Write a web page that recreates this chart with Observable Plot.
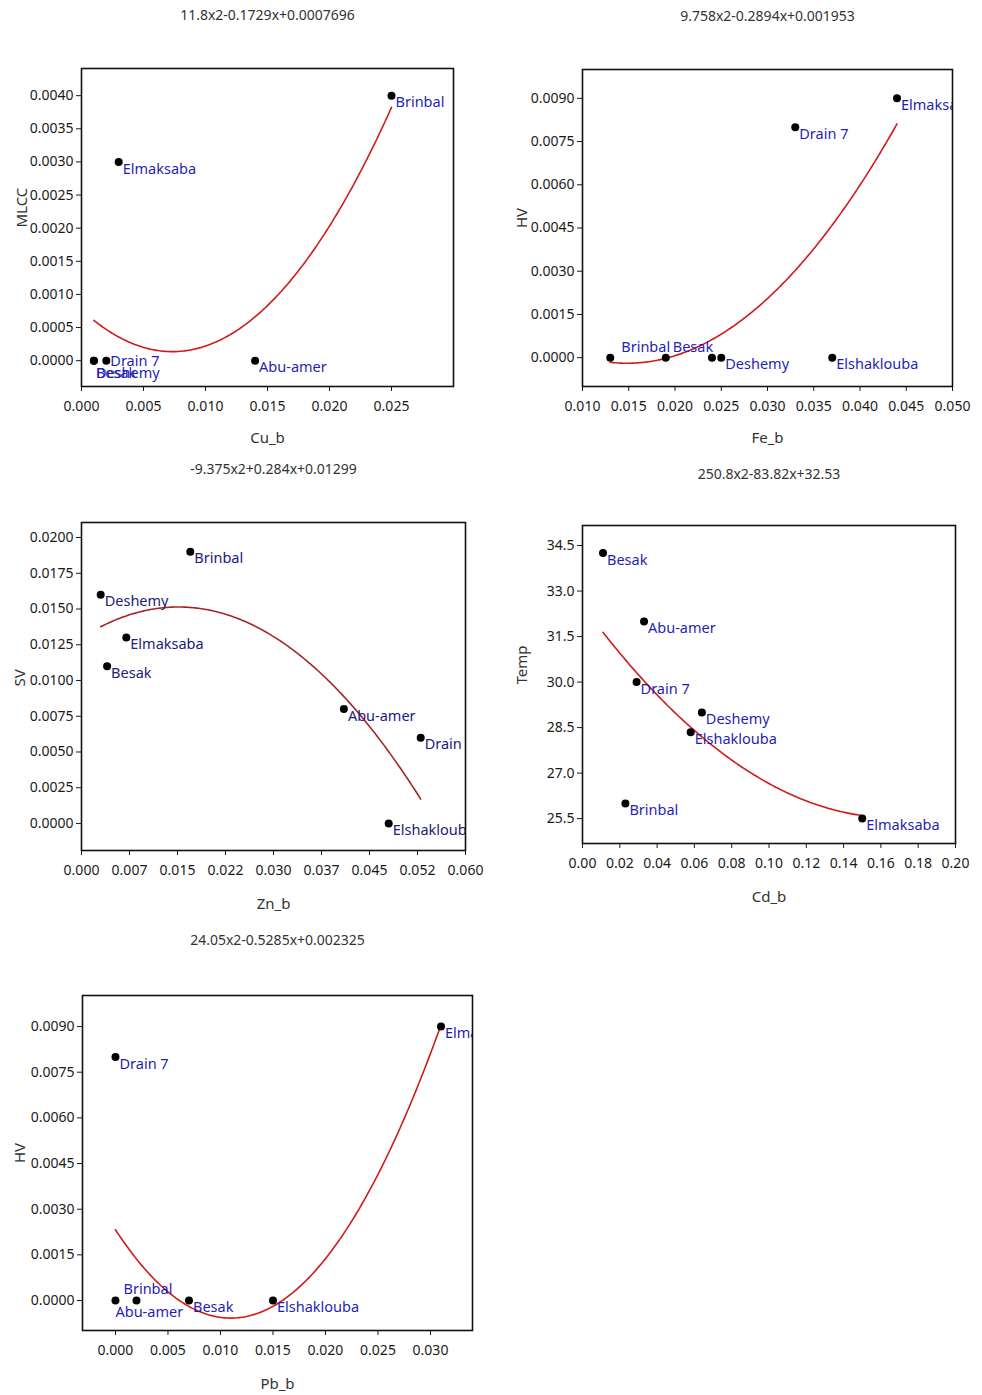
<!DOCTYPE html>
<html>
<head>
<meta charset="utf-8">
<script src="https://cdn.jsdelivr.net/npm/d3@7"></script>
<script src="https://cdn.jsdelivr.net/npm/@observablehq/plot@0.6"></script>
<style>
  html, body { margin: 0; padding: 0; background: white; }
  #wrap { position: relative; width: 982px; height: 1395px; background: white; overflow: hidden; }
  .panel { position: absolute; }
</style>
</head>
<body>
<div id="wrap"></div>
<script>
// ---------------- DATA ----------------
// Panel 1: MLCC vs Cu_b
const p1Sites = ["Brinbal", "Elmaksaba", "Abu-amer", "Drain 7", "Deshemy", "Besak"];
const p1X = [0.025, 0.003, 0.014, 0.002, 0.001, 0.001];
const p1Y = [0.0040, 0.0030, 0.0000, 0.0000, 0.0000, 0.0000];
const p1Coef = [11.8, -0.1729, 0.0007696];
const p1Title = "11.8x2-0.1729x+0.0007696";
const p1XTicks = [0, 0.005, 0.010, 0.015, 0.020, 0.025];
const p1XTickLabels = ["0.000", "0.005", "0.010", "0.015", "0.020", "0.025"];
const p1YTicks = [0, 0.0005, 0.0010, 0.0015, 0.0020, 0.0025, 0.0030, 0.0035, 0.0040];
const p1YTickLabels = ["0.0000", "0.0005", "0.0010", "0.0015", "0.0020", "0.0025", "0.0030", "0.0035", "0.0040"];

// Panel 2: HV vs Fe_b
const p2Sites = ["Brinbal", "Besak", "Abu-amer", "Deshemy", "Elshaklouba", "Drain 7", "Elmaksaba"];
const p2X = [0.013, 0.019, 0.024, 0.025, 0.037, 0.033, 0.044];
const p2Y = [0.0000, 0.0000, 0.0000, 0.0000, 0.0000, 0.0080, 0.0090];
const p2Coef = [9.758, -0.2894, 0.001953];
const p2Title = "9.758x2-0.2894x+0.001953";
const p2XTicks = [0.010, 0.015, 0.020, 0.025, 0.030, 0.035, 0.040, 0.045, 0.050];
const p2XTickLabels = ["0.010", "0.015", "0.020", "0.025", "0.030", "0.035", "0.040", "0.045", "0.050"];
const p2YTicks = [0, 0.0015, 0.0030, 0.0045, 0.0060, 0.0075, 0.0090];
const p2YTickLabels = ["0.0000", "0.0015", "0.0030", "0.0045", "0.0060", "0.0075", "0.0090"];

// Panel 3: SV vs Zn_b
const p3Sites = ["Brinbal", "Deshemy", "Elmaksaba", "Besak", "Abu-amer", "Drain 7", "Elshaklouba"];
const p3X = [0.017, 0.003, 0.007, 0.004, 0.041, 0.053, 0.048];
const p3Y = [0.0190, 0.0160, 0.0130, 0.0110, 0.0080, 0.0060, 0.0000];
const p3Coef = [-9.375, 0.284, 0.01299];
const p3Title = "-9.375x2+0.284x+0.01299";
const p3XTicks = [0, 0.0075, 0.015, 0.0225, 0.030, 0.0375, 0.045, 0.0525, 0.060];
const p3XTickLabels = ["0.000", "0.007", "0.015", "0.022", "0.030", "0.037", "0.045", "0.052", "0.060"];
const p3YTicks = [0, 0.0025, 0.0050, 0.0075, 0.0100, 0.0125, 0.0150, 0.0175, 0.0200];
const p3YTickLabels = ["0.0000", "0.0025", "0.0050", "0.0075", "0.0100", "0.0125", "0.0150", "0.0175", "0.0200"];

// Panel 4: Temp vs Cd_b
const p4Sites = ["Besak", "Abu-amer", "Drain 7", "Deshemy", "Elshaklouba", "Brinbal", "Elmaksaba"];
const p4X = [0.011, 0.033, 0.029, 0.064, 0.058, 0.023, 0.150];
const p4Y = [34.25, 32.0, 30.0, 29.0, 28.35, 26.0, 25.5];
const p4Coef = [250.8, -83.82, 32.53];
const p4Title = "250.8x2-83.82x+32.53";
const p4XTicks = [0, 0.02, 0.04, 0.06, 0.08, 0.10, 0.12, 0.14, 0.16, 0.18, 0.20];
const p4XTickLabels = ["0.00", "0.02", "0.04", "0.06", "0.08", "0.10", "0.12", "0.14", "0.16", "0.18", "0.20"];
const p4YTicks = [25.5, 27.0, 28.5, 30.0, 31.5, 33.0, 34.5];
const p4YTickLabels = ["25.5", "27.0", "28.5", "30.0", "31.5", "33.0", "34.5"];

// Panel 5: HV vs Pb_b
const p5Sites = ["Drain 7", "Elmaksaba", "Abu-amer", "Brinbal", "Besak", "Elshaklouba"];
const p5X = [0.000, 0.031, 0.000, 0.002, 0.007, 0.015];
const p5Y = [0.0080, 0.0090, 0.0000, 0.0000, 0.0000, 0.0000];
const p5Coef = [24.05, -0.5285, 0.002325];
const p5Title = "24.05x2-0.5285x+0.002325";
const p5XTicks = [0, 0.005, 0.010, 0.015, 0.020, 0.025, 0.030];
const p5XTickLabels = ["0.000", "0.005", "0.010", "0.015", "0.020", "0.025", "0.030"];
const p5YTicks = [0, 0.0015, 0.0030, 0.0045, 0.0060, 0.0075, 0.0090];
const p5YTickLabels = ["0.0000", "0.0015", "0.0030", "0.0045", "0.0060", "0.0075", "0.0090"];

// ---------------- DRAWING ----------------
const FONT = "'Noto Sans', 'Open Sans', sans-serif";
const ML = 85, MR = 25, MT = 65, MB = 70;

function panel(cfg) {
  const pts = cfg.sites.map((s, i) => ({site: s, x: cfg.x[i], y: cfg.y[i]}));
  const [xa, xb] = d3.extent(cfg.x);
  const c = cfg.coef;
  const curve = d3.range(0, 201).map(i => {
    const x = xa + (xb - xa) * i / 200;
    return {x, y: c[0] * x * x + c[1] * x + c[2]};
  });
  const fw = cfg.frame[1] - cfg.frame[0];
  const fh = cfg.frame[3] - cfg.frame[2];
  const xMap = new Map(cfg.xTicks.map((t, i) => [t, cfg.xTickLabels[i]]));
  const yMap = new Map(cfg.yTicks.map((t, i) => [t, cfg.yTickLabels[i]]));

  const labelMarks = pts.map(p => {
    const off = cfg.place[p.site] || [4, 7];
    if (off === "none") return null;
    return Plot.text([p], {
      x: "x", y: "y", text: "site",
      dx: off[0], dy: off[1],
      textAnchor: "start", lineAnchor: "middle",
      fill: cfg.labelColor, fontSize: 14.5, clip: true
    });
  }).filter(Boolean);

  const chart = Plot.plot({
    width: fw + ML + MR,
    height: fh + MT + MB,
    marginLeft: ML, marginRight: MR, marginTop: MT, marginBottom: MB,
    x: {domain: cfg.xDomain},
    y: {domain: cfg.yDomain},
    style: {fontFamily: FONT, fontSize: "14px", color: "#1a1a1a", background: "white", overflow: "visible"},
    marks: [
      Plot.axisX({ticks: cfg.xTicks, tickFormat: d => xMap.get(d), tickSize: 5, tickPadding: 10, label: null, fontSize: 14}),
      Plot.axisY({ticks: cfg.yTicks, tickFormat: d => yMap.get(d), tickSize: 5, tickPadding: 3, label: null, fontSize: 14}),
      Plot.line(curve, {x: "x", y: "y", stroke: cfg.curveColor, strokeWidth: 1.6, clip: true}),
      Plot.dot(pts, {x: "x", y: "y", r: 4, fill: "black", stroke: "none"}),
      ...labelMarks,
      Plot.frame({stroke: "#111", strokeWidth: 1.6}),
      Plot.text([cfg.title], {frameAnchor: "top", dy: cfg.titleDy - 5, fontSize: 14, fill: "#333"}),
      Plot.text([cfg.xLabel], {frameAnchor: "bottom", dy: cfg.xLabelDy + 5, fontSize: 15, fill: "#333"}),
      Plot.text([cfg.yLabel], {frameAnchor: "left", dx: cfg.yLabelDx, rotate: -90, fontSize: 15, fill: "#333"})
    ]
  });
  chart.classList.add("panel");
  chart.style.left = (cfg.frame[0] - ML) + "px";
  chart.style.top = (cfg.frame[2] - MT) + "px";
  document.getElementById("wrap").appendChild(chart);
}

panel({
  sites: p1Sites, x: p1X, y: p1Y, coef: p1Coef, title: p1Title,
  xTicks: p1XTicks, xTickLabels: p1XTickLabels, yTicks: p1YTicks, yTickLabels: p1YTickLabels,
  frame: [81, 453, 68, 386], xDomain: [0, 0.030], yDomain: [-0.00039, 0.00441],
  titleDy: -53, xLabelDy: 51, yLabelDx: -59, xLabel: "Cu_b", yLabel: "MLCC",
  place: {"Drain 7": [4, 1], "Deshemy": [2, 13], "Besak": [2, 13]},
  labelColor: "#1f1fb4", curveColor: "#d11a1a"
});

panel({
  sites: p2Sites, x: p2X, y: p2Y, coef: p2Coef, title: p2Title,
  xTicks: p2XTicks, xTickLabels: p2XTickLabels, yTicks: p2YTicks, yTickLabels: p2YTickLabels,
  frame: [582, 952, 69, 386], xDomain: [0.010, 0.050], yDomain: [-0.001, 0.010],
  titleDy: -53, xLabelDy: 51, yLabelDx: -60, xLabel: "Fe_b", yLabel: "HV",
  place: {"Brinbal": [11, -10], "Besak": [7, -10], "Abu-amer": "none"},
  labelColor: "#1f1fb4", curveColor: "#d11a1a"
});

panel({
  sites: p3Sites, x: p3X, y: p3Y, coef: p3Coef, title: p3Title,
  xTicks: p3XTicks, xTickLabels: p3XTickLabels, yTicks: p3YTicks, yTickLabels: p3YTickLabels,
  frame: [81, 465, 522, 850], xDomain: [0, 0.060], yDomain: [-0.00189, 0.02105],
  titleDy: -53, xLabelDy: 53, yLabelDx: -61, xLabel: "Zn_b", yLabel: "SV",
  place: {},
  labelColor: "#20207a", curveColor: "#a82424"
});

panel({
  sites: p4Sites, x: p4X, y: p4Y, coef: p4Coef, title: p4Title,
  xTicks: p4XTicks, xTickLabels: p4XTickLabels, yTicks: p4YTicks, yTickLabels: p4YTickLabels,
  frame: [582, 955, 525, 843], xDomain: [0, 0.20], yDomain: [24.68, 35.16],
  titleDy: -51, xLabelDy: 53, yLabelDx: -60, xLabel: "Cd_b", yLabel: "Temp",
  place: {},
  labelColor: "#1f1fb4", curveColor: "#d11a1a"
});

panel({
  sites: p5Sites, x: p5X, y: p5Y, coef: p5Coef, title: p5Title,
  xTicks: p5XTicks, xTickLabels: p5XTickLabels, yTicks: p5YTicks, yTickLabels: p5YTickLabels,
  frame: [82, 472, 995, 1330], xDomain: [-0.00314, 0.034], yDomain: [-0.000985, 0.01002],
  titleDy: -55, xLabelDy: 53, yLabelDx: -62, xLabel: "Pb_b", yLabel: "HV",
  place: {"Brinbal": [-13, -11], "Abu-amer": [0, 12]},
  labelColor: "#1f1fb4", curveColor: "#d11a1a"
});
</script>
</body>
</html>
